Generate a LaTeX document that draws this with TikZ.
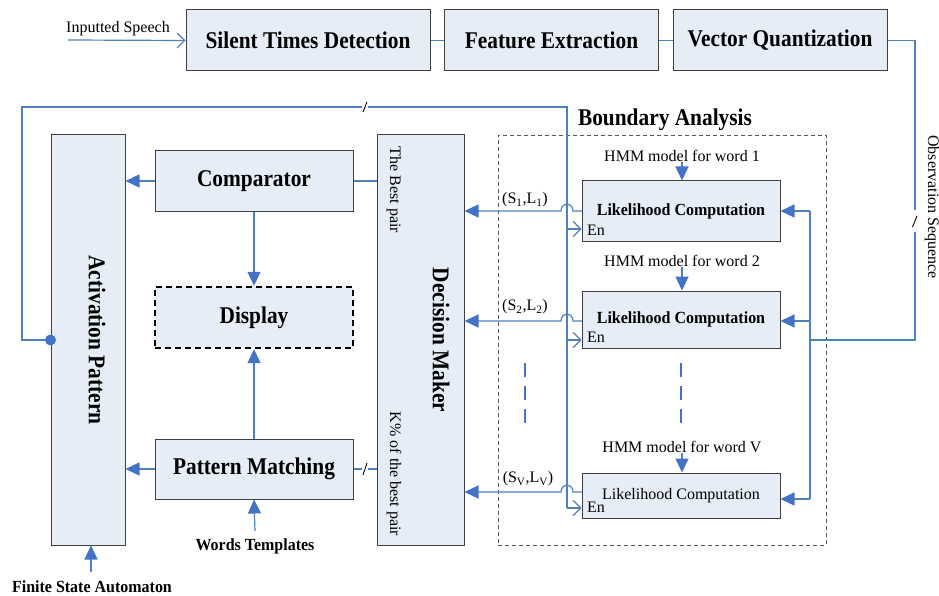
\documentclass[tikz,border=0pt]{standalone}
\usepackage{fontspec}
\setmainfont{Liberation Serif}
\newfontfamily\tallfont{Liberation Serif}[FakeStretch=0.89]
\newfontfamily\tallsmall{Liberation Serif}[FakeStretch=0.94]
\usetikzlibrary{arrows.meta}

\definecolor{flow}{RGB}{79,129,189}
\definecolor{head}{RGB}{68,114,196}
\definecolor{boxfill}{RGB}{230,237,247}
\definecolor{edge}{RGB}{64,64,64}

\tikzset{
  blk/.style={draw=edge, line width=1pt, fill=boxfill, inner sep=0pt,
              font=\tallfont\fontsize{24}{28}\selectfont\bfseries},
  big/.style={inner sep=0pt, font=\tallfont\fontsize{24}{28}\selectfont\bfseries},
  lbl/.style={inner sep=0pt, font=\fontsize{16}{18}\selectfont},
  lblb/.style={inner sep=0pt, font=\tallsmall\fontsize{17}{20}\selectfont\bfseries},
  wire/.style={draw=flow, line width=1.2pt},
  fwd/.style={wire, -{Triangle[length=14pt,width=13pt,color=head]}},
  opn/.style={wire, -{Straight Barb[length=7.5pt,width=15pt]}},
  tick/.style={draw=black, line width=0.9pt},
  vdash/.style={draw=head, line width=2pt, dash pattern=on 14pt off 9pt},
}

\begin{document}
\begin{tikzpicture}[x=1pt,y=-1pt]
\useasboundingbox (0,0) rectangle (939,596);

% ---- front end chain ----
\node[blk, minimum width=244pt, minimum height=61pt] (std) at (308,40.5) {Silent Times Detection};
\node[blk, minimum width=214pt, minimum height=61pt] (fe)  at (551.5,40.5) {Feature Extraction};
\node[blk, minimum width=214pt, minimum height=61pt] (vq)  at (780,40.5) {Vector Quantization};
\node[lbl] (speech) at (118,29) {Inputted Speech};
\coordinate (spin) at (68,40);

% ---- left column ----
\node[blk, minimum width=74pt, minimum height=410pt] (ap) at (88,340) {};
\node[big, rotate=-90] (apt) at (97,340) {Activation Pattern};
\node[blk, minimum width=198pt, minimum height=61pt] (cmp) at (254,181) {Comparator};
\node[blk, draw=black, line width=2.4pt, dash pattern=on 6pt off 4pt,
      minimum width=198pt, minimum height=61pt] (disp) at (254,317.5) {Display};
\node[blk, minimum width=198pt, minimum height=60pt] (pm) at (254,469) {Pattern Matching};
\node[lblb] (wt)  at (255,546) {Words Templates};
\node[lblb] (fsa) at (92,587) {Finite State Automaton};
\coordinate (wtTop)  at (255,531);
\coordinate (fsaTop) at (91,572);

% ---- decision maker ----
\node[blk, minimum width=87pt, minimum height=410pt] (dm) at (420.5,340) {};
\node[big, rotate=-90] (dmt) at (441,340) {Decision Maker};
\node[lbl, rotate=-90] (best)  at (394,190) {The Best pair};
\node[lbl, rotate=-90] (kbest) at (394,474) {K\% of the best pair};

% ---- boundary analysis ----
\node[draw=black!65, line width=0.8pt, dash pattern=on 4pt off 3pt,
      minimum width=328pt, minimum height=410pt, inner sep=0pt] (ba) at (662,340) {};
\node[big] (bat) at (665,120) {Boundary Analysis};

\node[blk, font=\tallsmall\fontsize{17}{20}\selectfont\bfseries,
      minimum width=198pt, minimum height=60pt] (lc1) at (681,211) {Likelihood Computation};
\node[blk, font=\tallsmall\fontsize{17}{20}\selectfont\bfseries,
      minimum width=198pt, minimum height=57pt] (lc2) at (681,319.5) {Likelihood Computation};
\node[blk, font=\fontsize{16}{18}\selectfont,
      minimum width=198pt, minimum height=45pt] (lc3) at (681,495.5) {Likelihood Computation};

\node[lbl, anchor=west] (en1) at (587,230) {En};
\node[lbl, anchor=west] (en2) at (587,337) {En};
\node[lbl, anchor=west] (en3) at (587,507) {En};

\node[lbl] (hmm1) at (682,156) {HMM model for word 1};
\node[lbl] (hmm2) at (682,261) {HMM model for word 2};
\node[lbl] (hmmV) at (682,447) {HMM model for word V};

\node[lbl] (p1) at (525,200) {(S\textsubscript{1},L\textsubscript{1})};
\node[lbl] (p2) at (525,307) {(S\textsubscript{2},L\textsubscript{2})};
\node[lbl] (pV) at (528,479) {(S\textsubscript{V},L\textsubscript{V})};

\node[lbl, rotate=-90] (obs) at (932,207) {Observation Sequence};

% ---- front end connectors ----
\draw[opn] (spin) -- (std.west);
\draw[wire] (std) -- (fe);
\draw[wire] (fe) -- (vq);

% observation sequence to the likelihood bus
\coordinate (obsA) at (915,210);
\coordinate (obsB) at (915,232);
\coordinate (busJoin) at (810,340);
\draw[wire] (vq.east) -| (obsA);
\draw[wire] (obsB) |- (busJoin);
\draw[tick] (912.5,227) -- (917,216);

\coordinate (bus1) at (810,211);
\coordinate (bus2) at (810,321);
\coordinate (bus3) at (810,499);
\draw[wire] (bus1) -- (bus3);
\draw[fwd] (bus1) -- (bus1 -| lc1.east);
\draw[fwd] (bus2) -- (bus2 -| lc2.east);
\draw[fwd] (bus3) -- (bus3 -| lc3.east);

% HMM models into the likelihood blocks
\draw[fwd] (hmm1.south) -- (hmm1.south |- lc1.north);
\draw[fwd] (hmm2.south) -- (hmm2.south |- lc2.north);
\draw[fwd] (hmmV.south) -- (hmmV.south |- lc3.north);

% ellipsis dashes
\coordinate (dA1) at (525,363); \coordinate (dA2) at (525,423);
\coordinate (dB1) at (681,363); \coordinate (dB2) at (681,423);
\draw[vdash] (dA1) -- (dA2);
\draw[vdash] (dB1) -- (dB2);

% feedback from activation pattern to the enable lines
\coordinate (fbL)  at (22,107);
\coordinate (fbG1) at (362,107);
\coordinate (fbG2) at (368,107);
\coordinate (fbR)  at (567,107);
\coordinate (fbB)  at (567,508);
\draw[wire] (ap.west) -| (fbL) -- (fbG1);
\draw[wire] (fbG2) -- (fbR) -- (fbB);
\draw[tick] (363,112) -- (367,102);
\fill[head] (ap.west) circle (5.5pt);

\coordinate (e1) at (567,229);
\coordinate (e2) at (567,340);
\coordinate (e3) at (567,508);
\draw[opn] (e1) -- (e1 -| lc1.west);
\draw[opn] (e2) -- (e2 -| lc2.west);
\draw[opn] (e3) -- (e3 -| lc3.west);

% likelihood results to the decision maker, hopping over the enable line
\coordinate (o1) at (582,211);
\coordinate (o2) at (582,321);
\coordinate (o3) at (582,492);
\draw[fwd] (o1) -- (573,211) .. controls (573,202) and (561,202) .. (561,211) -- (o1 -| dm.east);
\draw[fwd] (o2) -- (573,321) .. controls (573,312) and (561,312) .. (561,321) -- (o2 -| dm.east);
\draw[fwd] (o3) -- (573,492) .. controls (573,483) and (561,483) .. (561,492) -- (o3 -| dm.east);

% left column connectors
\draw[wire] (cmp.east) -- (cmp.east -| dm.west);
\draw[fwd] (cmp.west) -- (cmp.west -| ap.east);
\draw[fwd] (cmp.south) -- (disp.north);
\draw[fwd] (pm.north) -- (disp.south);
\draw[fwd] (pm.west) -- (pm.west -| ap.east);
\coordinate (pmG1) at (362,469);
\coordinate (pmG2) at (368,469);
\draw[wire] (pm.east) -- (pmG1);
\draw[wire] (pmG2) -- (pmG2 -| dm.west);
\draw[tick] (363,475) -- (367,463);
\draw[fwd] (wtTop) -- (pm.south);
\draw[fwd] (fsaTop) -- (fsaTop |- ap.south);
\end{tikzpicture}
\end{document}
